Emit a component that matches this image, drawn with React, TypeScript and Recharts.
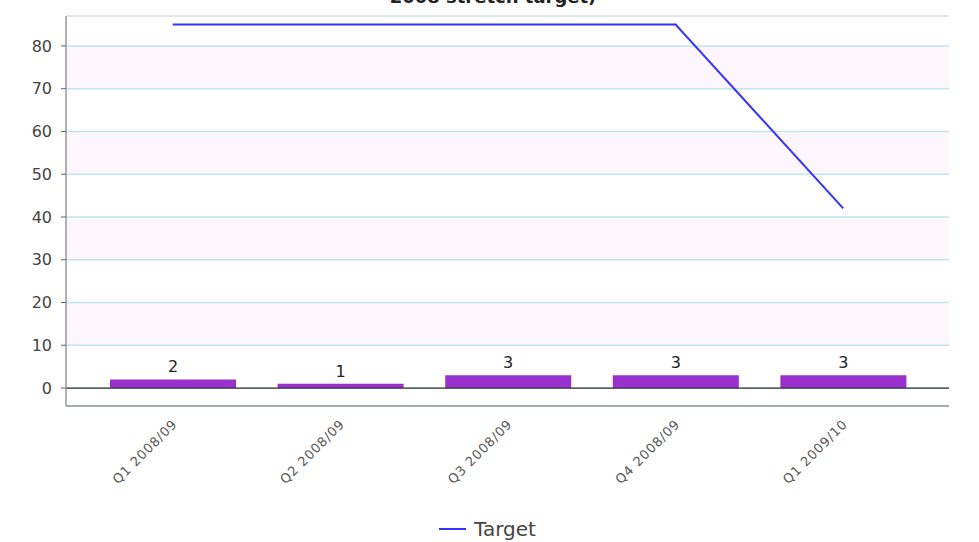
import {
  ComposedChart,
  Bar,
  Line,
  XAxis,
  YAxis,
  CartesianGrid,
  ReferenceLine,
  Legend,
  LabelList,
} from 'recharts'

const quarters = ['Q1 2008/09', 'Q2 2008/09', 'Q3 2008/09', 'Q4 2008/09', 'Q1 2009/10']
const actual = [2, 1, 3, 3, 3]
const target = [85, 85, 85, 85, 42]
const yTicks = [0, 10, 20, 30, 40, 50, 60, 70, 80]

const FONT = '"DejaVu Sans", Verdana, sans-serif'
const PINK = '#fdf6fd'
const NONE = 'transparent'
// row fills, top to bottom: above 80, 80-70, ... 10-0, below 0
const rowFills = [NONE, PINK, NONE, PINK, NONE, PINK, NONE, PINK, NONE, NONE]

const data = quarters.map((name, i) => ({
  name,
  actual: actual[i],
  target: target[i],
}))

// rotated quarter labels under the axis
const QuarterTick = ({ x, y, payload }: any) => (
  <g transform={`translate(${x + 5},${y + 19}) rotate(-45)`}>
    <text
      textAnchor="end"
      fontSize={13}
      fontFamily={FONT}
      fill="#555"
      letterSpacing={0.8}
    >
      {payload.value}
    </text>
  </g>
)

const TargetLegend = () => (
  <div
    style={{
      height: 26,
      display: 'flex',
      justifyContent: 'center',
      alignItems: 'center',
      fontFamily: FONT,
      fontSize: 20,
      color: '#444',
      paddingRight: 4,
    }}
  >
    <svg width={35} height={10}>
      <line x1={0} y1={5} x2={27} y2={5} stroke="#3333ff" strokeWidth={2} />
    </svg>
    <span>Target</span>
  </div>
)

export default function App() {
  return (
    <div style={{ position: 'absolute', left: 0, top: 0, width: 979, height: 542, background: '#fff' }}>
      <ComposedChart
        width={979}
        height={542}
        data={data}
        margin={{ top: 16, right: 30, left: 0, bottom: 0 }}
      >
        <CartesianGrid vertical={false} stroke="#bfe6ea" strokeWidth={1.5} horizontalFill={rowFills} />
        <XAxis
          dataKey="name"
          interval={0}
          tickSize={0}
          tickMargin={0}
          height={110}
          padding={{ left: 23, right: 22 }}
          axisLine={{ stroke: '#999', strokeWidth: 1.5 }}
          tick={<QuarterTick />}
        />
        <YAxis
          type="number"
          domain={[-4.2, 87]}
          ticks={yTicks}
          width={66}
          tickSize={5}
          tickMargin={9}
          axisLine={{ stroke: '#999', strokeWidth: 1.5 }}
          tickLine={{ stroke: '#666' }}
          tick={{ fontSize: 16, fontFamily: FONT, fill: '#444' }}
        />
        <ReferenceLine y={87} stroke="#e6e6e6" strokeWidth={1.5} />
        <ReferenceLine y={0} stroke="#333" strokeWidth={1.2} />
        <Bar dataKey="actual" barSize={126} fill="#9b30d0" legendType="none" isAnimationActive={false}>
          <LabelList dataKey="actual" position="top" offset={7} fontSize={16} fontFamily={FONT} fill="#222" />
        </Bar>
        <Line
          type="linear"
          dataKey="target"
          name="Target"
          stroke="#3333ff"
          strokeWidth={2}
          dot={false}
          isAnimationActive={false}
        />
        <Legend
          verticalAlign="bottom"
          wrapperStyle={{ left: 0, width: 979 }}
          content={<TargetLegend />}
        />
      </ComposedChart>
      <svg width={979} height={10} style={{ position: 'absolute', left: 0, top: 0 }}>
        <text x={493} y={3} textAnchor="middle" fontFamily={FONT} fontWeight="bold" fontSize={18} fill="#222">
          2008 stretch target)
        </text>
      </svg>
    </div>
  )
}
